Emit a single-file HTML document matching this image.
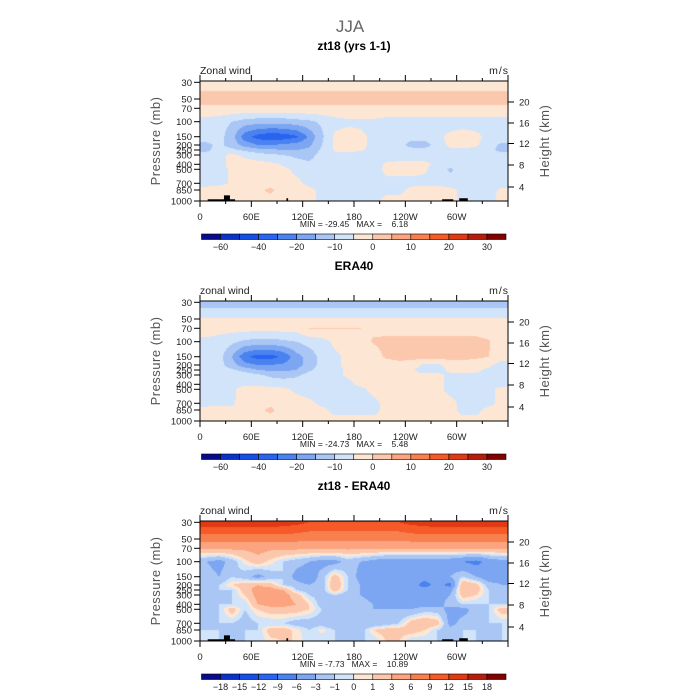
<!DOCTYPE html>
<html><head><meta charset="utf-8">
<style>
html,body{margin:0;padding:0;background:#fff;}
#wrap{position:relative;width:700px;height:700px;overflow:hidden;font-family:"Liberation Sans",sans-serif;}
canvas{position:absolute;left:0;top:0;}
svg{position:absolute;left:0;top:0;}
</style></head>
<body>
<div id="wrap">
<canvas id="cv" width="700" height="700"></canvas>
<svg id="sv" width="700" height="700">
<text x="350" y="32" font-size="17" fill="#666" text-anchor="middle">JJA</text>
</svg>
</div>
<script>
// ---------- data ----------
const levels = [30,50,70,100,150,200,250,300,400,500,700,850,1000];
const levelY = [82.3,99,108.3,121.7,136.7,145,150,155,164.3,169.3,183.3,190,201];
const lonCenters = [7.5,22.5,37.5,52.5,67.5,82.5,97.5,112.5,127.5,142.5,157.5,172.5,187.5,202.5,217.5,232.5,247.5,262.5,277.5,292.5,307.5,322.5,337.5,352.5];
const lonTicks = [0,60,120,180,240,300];
const lonTickLabels = ["0","60E","120E","180","120W","60W"];
const heightTicks = [20,16,12,8,4];
const heightTickY = [102,123,143.5,165,187];
const windBounds = [-60,-50,-40,-30,-20,-15,-10,-5,0,5,10,15,20,25,30];
const windLabels = ["-60","","-40","","-20","","-10","","0","","10","","20","","30"];
const diffBounds = [-18,-15,-12,-9,-6,-3,-1,0,1,3,6,9,12,15,18];
const diffLabels = ["-18","-15","-12","-9","-6","-3","-1","0","1","3","6","9","12","15","18"];
const palette = ["#0a0a8c","#0a32c8","#1450e6","#2864f0","#4a82f0","#7da6f2","#a9c6f5","#d2e4fa","#fde7d4","#fcc8ad","#fba47f","#f8804f","#f55a28","#e03a14","#b41e0a","#820000"];

const modelWind = [
[3,3,3,3,3,3,3,3,3,3,3,3,3,3,3,3,3,3,3,3,3,3,3,3],
[7,7,7,7,7,7,7,7,7,7,7,7,7,7,7,7,7,7,7,7,7,7,7,7],
[4,4,4,4,4,4,4,4,4,4,4,4,4,4,4,4,4,4,4,4,4,4,4,4],
[-2,-3,-5,-7,-8,-8,-8,-7,-6,-4,-2,-1,-1,-1,-2,-2,-2,-2,-2,-2,-2,-2,-2,-2],
[-3,-3,-8,-18,-22,-24,-23,-21,-14,-6,1,2,1,-1,-2,-2,-3,-2,-1,1,2,1,-1,-2],
[-6,-4,-7,-12,-15,-15,-14,-13,-11,-5,1,2,1,-1,-2,-3,-7,-8,-2,1,2,1,-3,-6],
[-6,-3,-4,-6,-8,-9,-10,-10,-9,-4,0.5,1,0.5,-1,-2,-2,-3,-3,-2,-1,-1,-2,-4,-6],
[-3,-1,1,-1,-3,-4,-5,-6,-7,-3,-1,-1,-2,-2,-2,-2,-2,-2,-2,-2,-2,-2,-3,-4],
[-2,-1,1,2,2,1,-0.5,-3,-4,-2,-2,-2,-2,-2,0.5,1,1,1,-1,-2,-2,-2,-2,-2],
[-2,-1,0.5,2,2,2,1,-1,-2,-2,-2,-2,-2,-2,1,1,1,0.5,-2,-6,-2,-2,-2,-2],
[-1,-1,0.5,2,3,3,2,1,-1,-2,-2,-2,-2,-2,-1,-1,-1,-1,-2,-2,-2,-2,-1,-1],
[1,2,2,3,4,6,3,2,1,-1,-1,-1,-1,-1,-1,-1,1,2,3,1,-1,-1,-1,0.5],
[2,2,1,2,3,3,2,2,1,-1,-1,-1,-1,-1,1,1,2,3,3,1,-1,-1,-1,1]];

const eraWind = [
[-8,-8,-8,-8,-8,-8,-8,-8,-8,-8,-8,-8,-8,-8,-8,-8,-8,-8,-8,-8,-8,-8,-8,-8],
[0.3,0.3,0.3,0.3,0.3,0.3,0.3,0.3,0.3,0.3,0.3,0.3,0.3,0.3,0.3,0.3,0.3,0.3,0.3,0.3,0.3,0.3,0.3,0.3],
[2,2,2,2,2,2,2,2,5.2,5.3,5.3,5.2,5.1,4,2,2,2,2,2,2,2,2,2,2],
[-1,-2,-4,-6,-7,-7,-6,-5,-3,-2,1,2,3,5.5,7,7,7,7,7,7,7,7,5.5,2],
[-2,-3,-10,-19,-22,-22,-19,-12,-8,-3,-1,1,2,2,6,7,7,7,7,7,6.5,6,5,2],
[-3,-3,-8,-13,-15,-15,-14,-12,-8,-3,-1,1,2,2,2,3,2,-1,-1,2,3,2,1,-2],
[-3,-3,-4,-7,-10,-11,-11,-10,-6,-2,-1,0.5,1,1,1,1,0.5,-2,-2,1,1,1,-1,-2],
[-2,-1,-1,-2,-4,-6,-7,-6,-3,-2,-1,0.5,1,1,1,1,1,1,1,-1,-1,-1,-1,-1],
[-2,-2,-1,-1,-1,-2,-2,-2,-2,-2,-2,-1,1,1,1,1,1,1,1,-1,-1,-1,-1,-1],
[-1,-1,-1,2,2,2,1,-1,-2,-2,-2,-2,-1,1,1,1,1,1,1,-1,-1,-1,-1,1],
[-1,-1,-1,3,3,4,3,2,1,-1,-1,-1,-1,-1,1,1,1,1,1,1,-1,-1,-1,1],
[1,2,1,3,4,6,3,2,1,1,-1,-1,-1,-1,1,1,1,1,1,1,-1,-1,1,1],
[2,2,1,3,3,3,3,2,1,1,1,1,1,1,1,1,1,3,1,1,1,1,1,1]];

const diffWind = [
[14,14,14,14,14,14,13.5,13,12,12,12,12,12,12,12,12,13,13.5,14,14,14,14,14,14],
[7,7,7,7,7,7,7,7,6.5,6.5,6.5,6.5,6.5,6.5,6.5,6.5,7,7,7,7,7,7,7,7],
[3.5,3.5,3.5,3.5,4,3.5,3.5,3.5,3.5,3.5,3.5,3.5,3.5,3.5,3.5,3.5,3.5,3.5,3.5,3.5,3.5,3.5,3.5,3.5],
[-3,-4,-2,0.5,2,0.5,-1,-2,-3,-4,-4,-2,-3,-4,-5,-5,-5,-5,-5,-5,-6,-7,-5,-4],
[-2,-3,-1,-2,-4,-2,-1,-4,-5,-2,2,-1,-4,-4,-5,-5,-5,-5,-5,-3,-1,-3,-5,-4],
[-2,-1,1,2,3,2,-1,-2,-3,-2,3,-1,-3,-4,-5,-5,-5,-7,-5,-7,3,2,-2,-3],
[-2,-1,-1,2,4,4,3,-1,-2,-2,2,-1,-3,-4,-4,-5,-5,-5,-5,-4,3,2,-1,-3],
[-2,-2,-1,1,4,4,4,2,-1,-2,-1,-2,-3,-4,-4,-4,-4,-4,-4,-3,2,1,-1,-2],
[-2,-1,-1,-1,3,4,4,3,1,-2,-2,-3,-2,-3,-4,-4,-4,-4,-4,-2,-1,-1,-1,-1],
[-1,-1,2,-1,1,2,2,2,1,-1,-2,-3,-3,-3,-3,-3,-3,-2,-2,-4,-4,-2,-1,2],
[-2,-1,-1,-2,-1,-1,-1,-2,-2,-2,-3,-3,-3,-3,-2,-1,2,3,2,-4,-2,-2,-1,-1],
[-1,-1,-2,-1,-1,2,2,0.5,-1,0.5,-1,-2,-2,1,2,2,2,1,-1,-2,-1,-1,-2,-1],
[-1,-1,-1,-1,-1,0.5,1,1,-1,-1,-1,-1,-1,-1,1,1,-1,-1,-1,-1,-1,-1,-1,-1]];

// topography blocks
const topoLonStart = [9,28,101,283,303];
const topoLonEnd = [41,35,103,296,313];
const topoPressure = [975,920,960,975,960];

const panels = [
 {title:"zt18 (yrs 1-1)", left:"Zonal wind", data:modelWind, bounds:windBounds, labels:windLabels, shift:1, min:"-29.45", max:"6.18", topo:true},
 {title:"ERA40", left:"zonal wind", data:eraWind, bounds:windBounds, labels:windLabels, shift:1, min:"-24.73", max:"5.48", topo:false},
 {title:"zt18 - ERA40", left:"zonal wind", data:diffWind, bounds:diffBounds, labels:diffLabels, shift:0, min:"-7.73", max:"10.89", topo:true}
];

// ---------- axis functions ----------
const X0=200, X1=508;
function xOf(lon){return X0+(X1-X0)*lon/360;}
function lonOf(x){return (x-X0)/(X1-X0)*360;}
function yOfP(p,off){
  for(let i=0;i<levels.length-1;i++){
    if(p>=levels[i]&&p<=levels[i+1]){
      const f=Math.log(p/levels[i])/Math.log(levels[i+1]/levels[i]);
      return off+levelY[i]+f*(levelY[i+1]-levelY[i]);
    }
  }
  return off+levelY[levelY.length-1];
}
function colorFor(v,b,shift){let k=0;while(k<b.length&&v>=b[k])k++;k-=shift;if(k<0)k=0;return palette[k];}

const cv=document.getElementById('cv');const ctx=cv.getContext('2d');
const sv=document.getElementById('sv');const NS="http://www.w3.org/2000/svg";
function mk(tag,attrs,parent){const e=document.createElementNS(NS,tag);for(const k in attrs)e.setAttribute(k,attrs[k]);(parent||sv).appendChild(e);return e;}

function sample(grid,lon,ry){
  let c=(lon-lonCenters[0])/15; if(c<0)c=0; if(c>23)c=23;
  const c0=Math.floor(c), c1=Math.min(23,c0+1), fc=c-c0;
  let r=0; while(r<levelY.length-2 && ry>levelY[r+1]) r++;
  let fr=(ry-levelY[r])/(levelY[r+1]-levelY[r]); if(fr<0)fr=0; if(fr>1)fr=1;
  const a=grid[r][c0]*(1-fc)+grid[r][c1]*fc;
  const b=grid[r+1][c0]*(1-fc)+grid[r+1][c1]*fc;
  return a*(1-fr)+b*fr;
}

panels.forEach((P,pi)=>{
  const off=pi*220;
  const top=81+off, bot=201+off;
  for(let y=top;y<bot;y++){
    for(let x=X0;x<X1;x++){
      const v=sample(P.data,lonOf(x+0.5),y-off+0.5);
      ctx.fillStyle=colorFor(v,P.bounds,P.shift);
      ctx.fillRect(x,y,1,1);
    }
  }
  const g=mk('g',{});  
  if(P.topo){
    topoLonStart.forEach((s,i)=>{
      const r=mk('rect',{x:xOf(s),y:yOfP(topoPressure[i],off),width:xOf(topoLonEnd[i])-xOf(s),height:bot-yOfP(topoPressure[i],off),fill:"#000"},g);
      
      
    });
  }
  const fr=mk('rect',{x:X0,y:top,width:X1-X0,height:bot-top,fill:"none",stroke:"#000","stroke-width":1},g);
   
  let t=mk('text',{x:354,y:top-31,"font-size":12,"font-weight":"bold","text-anchor":"middle",fill:"#000"},g);t.textContent=P.title;
   
  t=mk('text',{x:200,y:top-7,"font-size":10.5,fill:"#222"},g);t.textContent=P.left;
   
  t=mk('text',{x:509,y:top-7,"font-size":10.5,fill:"#222","text-anchor":"end","letter-spacing":"1"},g);t.textContent="m/s";
   
  for(let lon=0;lon<=360;lon+=30){
    const major=lon%60===0;
    mk('line',{x1:xOf(lon),x2:xOf(lon),y1:bot,y2:bot+(major?6:3),stroke:"#000"},g);
    mk('line',{x1:xOf(lon),x2:xOf(lon),y1:top,y2:top-(major?6:3),stroke:"#000"},g);
  }
  lonTicks.forEach((lon,i)=>{
    const tt=mk('text',{x:xOf(lon),y:bot+19,"font-size":9.5,fill:"#222","text-anchor":"middle"},g);tt.textContent=lonTickLabels[i];
     
  });
  t=mk('text',{x:354,y:bot+26,"font-size":8.5,fill:"#222","text-anchor":"middle",style:"white-space:pre"},g);
  t.textContent="MIN = "+P.min+"   MAX =    "+P.max;
   
  levels.forEach((p,i)=>{
    const y=off+levelY[i];
    mk('line',{x1:X0-6,x2:X0,y1:y,y2:y,stroke:"#000"},g);
    const tt=mk('text',{x:X0-8,y:y+3.5,"font-size":9.5,fill:"#222","text-anchor":"end"},g);tt.textContent=String(p);
     
  });
  heightTicks.forEach((h,i)=>{
    const y=off+heightTickY[i];
    mk('line',{x1:X1,x2:X1+6,y1:y,y2:y,stroke:"#000"},g);
    const tt=mk('text',{x:X1+11,y:y+3.5,"font-size":9.5,fill:"#222"},g);tt.textContent=String(h);
     
  });
  t=mk('text',{x:0,y:0,"font-size":13,fill:"#555","text-anchor":"middle","letter-spacing":"0.5",transform:`translate(160,${off+141}) rotate(-90)`},g);
  t.textContent="Pressure (mb)";  
  t=mk('text',{x:0,y:0,"font-size":13,fill:"#555","text-anchor":"middle","letter-spacing":"0.5",transform:`translate(549,${off+141}) rotate(-90)`},g);
  t.textContent="Height (km)";  
  const cb=mk('g',{},g);  
  const cbx=201.5, cbw=304.5/16, cby=off+234;
  palette.forEach((c,i)=>{
    const r=mk('rect',{x:cbx+i*cbw,y:cby,width:cbw,height:5.5,fill:c,stroke:"#000","stroke-width":0.6},cb);
     
  });
  P.labels.forEach((l,i)=>{
    if(!l)return;
    const tt=mk('text',{x:cbx+(i+1)*cbw,y:cby+16,"font-size":9,fill:"#222","text-anchor":"middle"},cb);
    tt.textContent=l.replace('-','\u2212');
     
  });
});
</script>
</body></html>
